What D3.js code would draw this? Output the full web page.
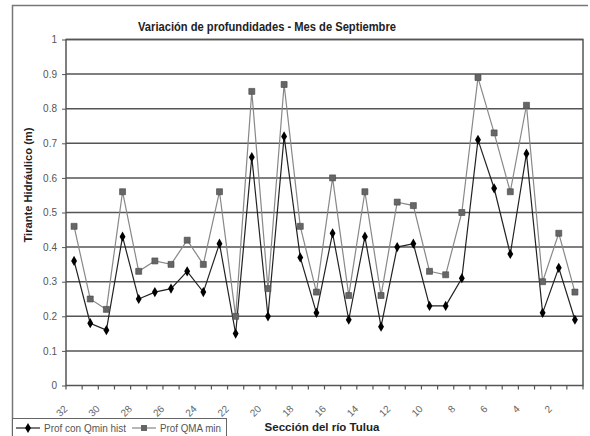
<!DOCTYPE html>
<html>
<head>
<meta charset="utf-8">
<script src="https://cdn.jsdelivr.net/npm/d3@7"></script>
<style>
body { margin: 0; background: #fff; }
text { font-family: "Liberation Sans", Arial, sans-serif; }
</style>
</head>
<body>
<div id="chart"></div>
<script>
// sections of the river, from 32 down to 1
var sections = d3.range(32, 0, -1);
var tickLabels = [32, 30, 28, 26, 24, 22, 20, 18, 16, 14, 12, 10, 8, 6, 4, 2];
var yTicks = [0, 0.1, 0.2, 0.3, 0.4, 0.5, 0.6, 0.7, 0.8, 0.9, 1];

var qminHist = [0.36, 0.18, 0.16, 0.43, 0.25, 0.27, 0.28, 0.33, 0.27, 0.41, 0.15, 0.66, 0.20, 0.72, 0.37, 0.21,
    0.44, 0.19, 0.43, 0.17, 0.40, 0.41, 0.23, 0.23, 0.31, 0.71, 0.57, 0.38, 0.67, 0.21, 0.34, 0.19];
var qmaMin = [0.46, 0.25, 0.22, 0.56, 0.33, 0.36, 0.35, 0.42, 0.35, 0.56, 0.20, 0.85, 0.28, 0.87, 0.46, 0.27,
    0.60, 0.26, 0.56, 0.26, 0.53, 0.52, 0.33, 0.32, 0.50, 0.89, 0.73, 0.56, 0.81, 0.30, 0.44, 0.27];

var width = 590, height = 436;
var margin = { top: 39.5, right: 7, bottom: 50.5, left: 66 };
var w = width - margin.left - margin.right,
    h = height - margin.top - margin.bottom;

var svg = d3.select("#chart").append("svg")
    .attr("width", width)
    .attr("height", height);

// outer frame
svg.append("path")
    .attr("d", "M12.5,436 V5.5 H588")
    .attr("fill", "none")
    .attr("stroke", "#777")
    .attr("stroke-width", 1.5);

svg.append("text")
    .attr("x", 267)
    .attr("y", 30.5)
    .attr("text-anchor", "middle")
    .attr("textLength", 258)
    .attr("lengthAdjust", "spacingAndGlyphs")
    .style("font-size", "12.5px")
    .style("font-weight", "bold")
    .style("fill", "#222")
    .text("Variación de profundidades - Mes de Septiembre");

var g = svg.append("g")
    .attr("transform", "translate(" + margin.left + "," + margin.top + ")");

var x = d3.scaleBand().domain(sections).range([0, w]);
var y = d3.scaleLinear().domain([0, 1]).range([h, 0]);

// gridlines
g.selectAll(".grid")
    .data(yTicks.slice(1))
    .enter().append("line")
    .attr("x1", 0).attr("x2", w)
    .attr("y1", function (d) { return y(d); })
    .attr("y2", function (d) { return y(d); })
    .attr("stroke", "#555")
    .attr("stroke-width", 1.5);

g.append("rect")
    .attr("width", w).attr("height", h)
    .attr("fill", "none")
    .attr("stroke", "#555")
    .attr("stroke-width", 1.5);

var yAxis = d3.axisLeft(y).tickValues(yTicks).tickSize(4).tickPadding(5)
    .tickFormat(function (d) { return d === 0 || d === 1 ? d : d3.format(".1f")(d); });
var ya = g.append("g").call(yAxis);
ya.select(".domain").remove();
ya.selectAll("line").attr("stroke", "#555");
ya.selectAll("text").style("font-size", "10px").style("fill", "#555");

// x axis: ticks on category boundaries
var xa = g.append("g").attr("transform", "translate(0," + h + ")");
xa.selectAll(".xt")
    .data(sections.concat(["end"]))
    .enter().append("line")
    .attr("x1", function (d, i) { return i * x.step(); })
    .attr("x2", function (d, i) { return i * x.step(); })
    .attr("y1", 0).attr("y2", 4)
    .attr("stroke", "#555")
    .attr("stroke-width", 1.2);
xa.selectAll(".xl")
    .data(tickLabels)
    .enter().append("text")
    .attr("transform", function (d) {
        return "translate(" + (x(d) + x.bandwidth() / 2 - 6) + ",24) rotate(-45)";
    })
    .attr("text-anchor", "end")
    .style("font-size", "10px")
    .style("fill", "#666")
    .text(function (d) { return d; });

svg.append("text")
    .attr("x", 322)
    .attr("y", 431)
    .attr("text-anchor", "middle")
    .style("font-size", "11.5px")
    .style("font-weight", "bold")
    .style("fill", "#222")
    .text("Sección del río Tulua");

svg.append("text")
    .attr("transform", "translate(32,185) rotate(-90)")
    .attr("text-anchor", "middle")
    .attr("textLength", 115)
    .attr("lengthAdjust", "spacingAndGlyphs")
    .style("font-size", "11px")
    .style("font-weight", "bold")
    .style("fill", "#222")
    .text("Tirante Hidráulico (m)");

var cx = function (d, i) { return x(sections[i]) + x.bandwidth() / 2; };
var line = d3.line().x(cx).y(function (d) { return y(d); });

g.append("path").datum(qmaMin)
    .attr("d", line)
    .attr("fill", "none")
    .attr("stroke", "#888")
    .attr("stroke-width", 1.2);
g.append("path").datum(qminHist)
    .attr("d", line)
    .attr("fill", "none")
    .attr("stroke", "#222")
    .attr("stroke-width", 1.2);

var diamond = d3.symbol().type(d3.symbolDiamond).size(30);
var square = d3.symbol().type(d3.symbolSquare).size(36);

g.selectAll(".sq").data(qmaMin).enter().append("path")
    .attr("d", square)
    .attr("transform", function (d, i) { return "translate(" + cx(d, i) + "," + y(d) + ")"; })
    .attr("fill", "#666")
    .attr("stroke", "#444")
    .attr("stroke-width", 0.6);
g.selectAll(".dm").data(qminHist).enter().append("path")
    .attr("d", diamond)
    .attr("transform", function (d, i) { return "translate(" + cx(d, i) + "," + y(d) + ")"; })
    .attr("fill", "#000");

// legend
var lg = svg.append("g");
lg.append("rect")
    .attr("x", 12.5).attr("y", 418.5)
    .attr("width", 214).attr("height", 20)
    .attr("fill", "#fff")
    .attr("stroke", "#666")
    .attr("stroke-width", 1);
var legendItems = [
    { name: "Prof con Qmin hist", x0: 16, len: 82, stroke: "#222", sym: diamond, fill: "#000" },
    { name: "Prof QMA min", x0: 132, len: 61, stroke: "#888", sym: square, fill: "#666" }
];
legendItems.forEach(function (d) {
    lg.append("line")
        .attr("x1", d.x0).attr("x2", d.x0 + 24)
        .attr("y1", 428).attr("y2", 428)
        .attr("stroke", d.stroke).attr("stroke-width", 1.2);
    lg.append("path")
        .attr("d", d.sym)
        .attr("transform", "translate(" + (d.x0 + 12) + ",428)")
        .attr("fill", d.fill);
    lg.append("text")
        .attr("x", d.x0 + 28).attr("y", 432)
        .attr("textLength", d.len)
        .attr("lengthAdjust", "spacingAndGlyphs")
        .style("font-size", "11px")
        .style("fill", "#555")
        .text(d.name);
});
</script>
</body>
</html>
